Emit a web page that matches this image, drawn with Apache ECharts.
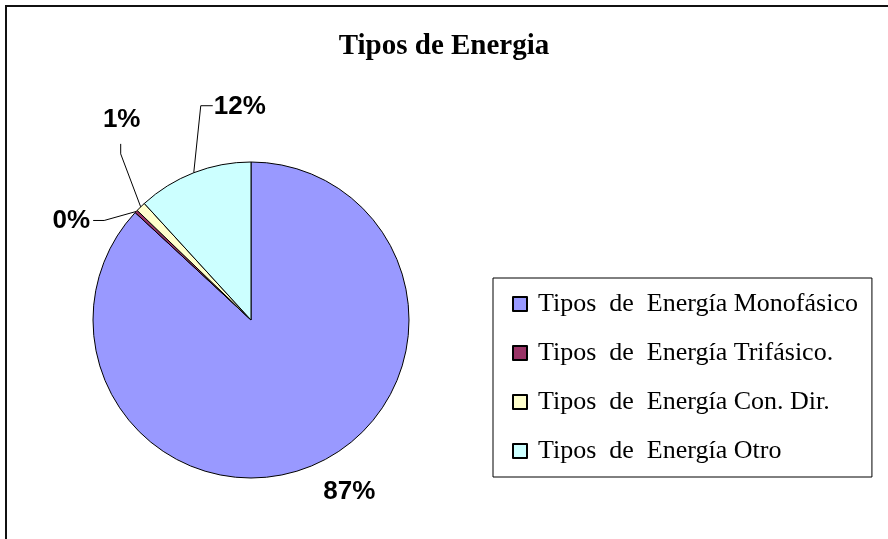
<!DOCTYPE html>
<html>
<head>
<meta charset="utf-8">
<script src="https://cdn.jsdelivr.net/npm/echarts@6/dist/echarts.min.js"></script>
<style>
  html, body { margin: 0; padding: 0; background: #fff; }
  #chart { width: 888px; height: 539px; }
</style>
</head>
<body>
<div id="chart"></div>
<script>
// datos del grafico
var categorias = ['Tipos  de  Energía Monofásico', 'Tipos  de  Energía Trifásico.', 'Tipos  de  Energía Con. Dir.', 'Tipos  de  Energía Otro']
var valores = [86.9, 0.3, 1.0, 11.8]
var colores = ['#9999FF', '#993366', '#FFFFCC', '#CCFFFF']

var myChart = echarts.init(document.getElementById('chart'))

// desplazamientos de etiqueta respecto al borde del sector
var offsets = [
  null,
  { bend: [-32, 9], end: [-43, 9], label: [-46, 9], align: 'right' },
  { bend: [-20, -53], end: [-20, -63], label: [-19, -87], align: 'center' },
  { bend: [7, -67], end: [19, -67], label: [20, -66], align: 'left' }
]

myChart.setOption({
  animation: false,
  title: {
    text: 'Tipos de Energia',
    left: 'center',
    top: 27,
    textStyle: {
      fontFamily: 'Liberation Serif',
      fontWeight: 'bold',
      fontSize: 29,
      color: '#000'
    }
  },
  graphic: [
    {
      type: 'rect',
      shape: { x: 6, y: 6, width: 1000, height: 1000 },
      style: { fill: 'none', stroke: '#111', lineWidth: 2 },
      silent: true
    }
  ],
  legend: {
    orient: 'vertical',
    left: 493,
    top: 278,
    padding: [13, 14, 13, 19],
    itemGap: 23,
    itemWidth: 14,
    itemHeight: 14,
    icon: 'rect',
    borderColor: '#000',
    borderWidth: 1,
    selectedMode: false,
    textStyle: {
      fontFamily: 'Liberation Serif',
      fontSize: 26,
      lineHeight: 26,
      color: '#000',
      padding: [0, 0, 0, 6]
    },
    data: categorias
  },
  series: [
    {
      type: 'pie',
      center: [251, 320],
      radius: 158,
      startAngle: 90,
      clockwise: true,
      percentPrecision: 0,
      avoidLabelOverlap: false,
      emphasis: { disabled: true },
      itemStyle: {
        borderColor: '#000',
        borderWidth: 1
      },
      label: {
        show: true,
        position: 'outside',
        formatter: '{d}%',
        fontFamily: 'Liberation Sans',
        fontWeight: 'bold',
        fontSize: 26,
        color: '#000'
      },
      labelLine: {
        show: true,
        length: 10,
        length2: 10,
        smooth: false,
        lineStyle: { color: '#000', width: 1 }
      },
      labelLayout: function (params) {
        var o = offsets[params.dataIndex]
        if (!o) {
          var r = params.rect
          return {
            x: r.x + r.width * 0.81,
            y: r.y + r.height + 13,
            align: 'center',
            verticalAlign: 'middle'
          }
        }
        var p0 = params.labelLinePoints[0]
        return {
          x: p0[0] + o.label[0],
          y: p0[1] + o.label[1],
          align: o.align,
          verticalAlign: 'middle',
          labelLinePoints: [
            p0,
            [p0[0] + o.bend[0], p0[1] + o.bend[1]],
            [p0[0] + o.end[0], p0[1] + o.end[1]]
          ]
        }
      },
      data: categorias.map(function (n, i) {
        return {
          name: n,
          value: valores[i],
          itemStyle: { color: colores[i] },
          labelLine: { show: i !== 0 }
        }
      })
    }
  ]
})
</script>
</body>
</html>
